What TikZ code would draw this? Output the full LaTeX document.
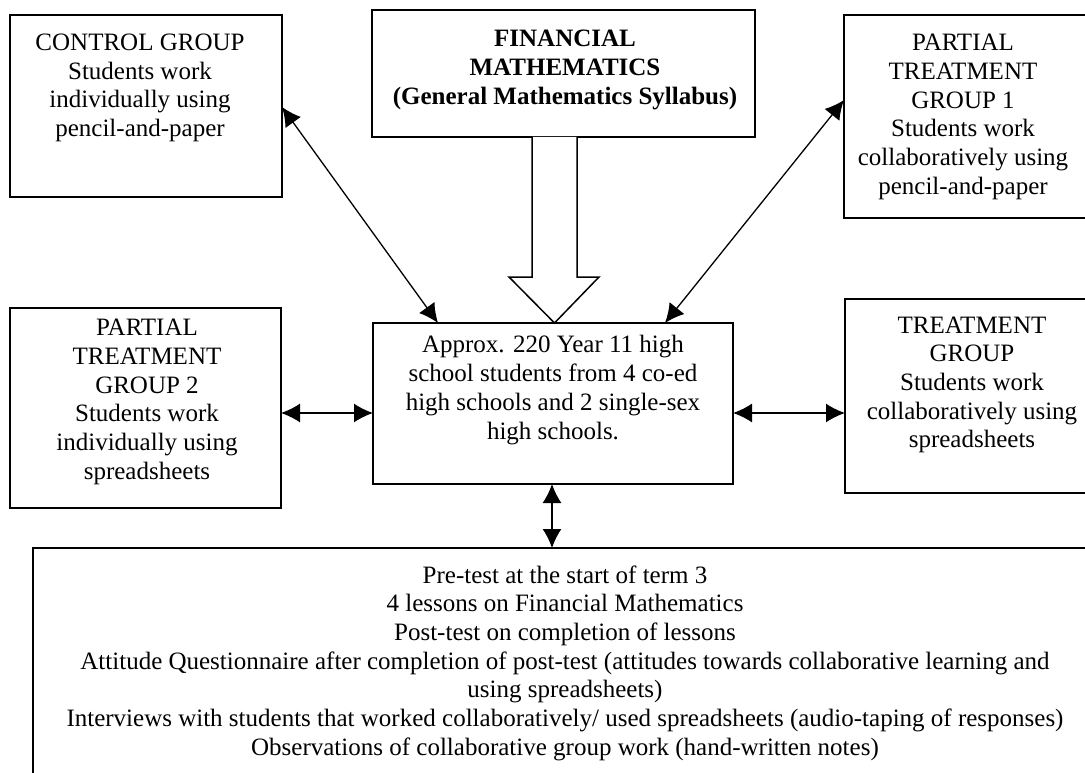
\documentclass[tikz,border=0pt]{standalone}
\usepackage{fontspec}
\setmainfont{Liberation Serif}
\usetikzlibrary{arrows.meta,calc}
\tikzset{
  box/.style={draw=black, line width=1.7pt, fill=white, inner sep=0pt, outer sep=0pt, anchor=north west},
  txt/.style={align=center, inner sep=0pt, font=\fontsize{25}{28.7}\selectfont},
  conn/.style={line width=1.3pt, {Latex[length=19pt,width=19pt]}-{Latex[length=19pt,width=19pt]}},
  hollow/.style={draw=black, line width=1.5pt, fill=white, line join=miter}
}
\begin{document}
\begin{tikzpicture}[x=1pt,y=-1pt]
\useasboundingbox (0,0) rectangle (1085,773);
\clip (0,0) rectangle (1085,773);
\fill[white] (0,0) rectangle (1085,773);
% boxes
\node[box, minimum width=272pt, minimum height=182pt] (ctrl) at (10,15) {};
\node[box, minimum width=383pt, minimum height=127pt] (fin) at (372,10) {};
\node[box, minimum width=260pt, minimum height=203pt] (p1) at (844,15) {};
\node[box, minimum width=271pt, minimum height=200pt] (p2) at (10,308) {};
\node[box, minimum width=360pt, minimum height=161pt] (ctr) at (373,323) {};
\node[box, minimum width=260pt, minimum height=194pt] (trt) at (845,299) {};
\node[box, minimum width=1064pt, minimum height=260pt] (bot) at (33,548) {};
% texts
\node[txt] (ctrlt) at (140,88) {CONTROL GROUP\\Students work\\individually using\\pencil-and-paper};
\node[txt, font=\fontsize{25}{28.7}\selectfont\bfseries] (fint) at (565,70) {FINANCIAL\\MATHEMATICS\\(General Mathematics Syllabus)};
\node[txt] (p1t) at (963,117) {PARTIAL\\TREATMENT\\GROUP 1\\Students work\\collaboratively using\\pencil-and-paper};
\node[txt] (p2t) at (147,402) {PARTIAL\\TREATMENT\\GROUP 2\\Students work\\individually using\\spreadsheets};
\node[txt] (ctrt) at (553,390) {Approx. 220 Year 11 high\\school students from 4 co-ed\\high schools and 2 single-sex\\high schools.};
\node[txt] (trtt) at (972,385) {TREATMENT\\GROUP\\Students work\\collaboratively using\\spreadsheets};
\node[txt] (bott) at (565,663) {Pre-test at the start of term 3\\4 lessons on Financial Mathematics\\Post-test on completion of lessons\\Attitude Questionnaire after completion of post-test (attitudes towards collaborative learning and\\using spreadsheets)\\Interviews with students that worked collaboratively/ used spreadsheets (audio-taping of responses)\\Observations of collaborative group work (hand-written notes)};
% hollow arrow from fin to ctr
\coordinate (ha) at ($(fin.south west)+(182.5,0)$);
\coordinate (hb) at ($(ctr.north west)+(181.5,0)$);
\draw[hollow] ($(ha)+(-22.5,0)$) -- ($(ha)+(-22.5,140)$) -- ($(ha)+(-45.5,140)$) -- (hb) -- ($(ha)+(44.5,140)$) -- ($(ha)+(22.5,140)$) -- ($(ha)+(22.5,0)$);
% connectors
\draw[conn] ($(ctrl.north east)+(0,92)$) -- ($(ctr.north west)+(65,0)$);
\draw[conn] ($(p1.north west)+(0,85)$) -- ($(ctr.north west)+(292,0)$);
\coordinate (yl) at ($(p2.north east)+(0,105)$);
\draw[conn] (yl) -- (ctr.west |- yl);
\coordinate (yr) at ($(ctr.north east)+(0,90)$);
\draw[conn] (yr) -- (trt.west |- yr);
\coordinate (vx) at ($(ctr.south west)+(179,0)$);
\draw[conn] (vx) -- (vx |- bot.north);
\end{tikzpicture}
\end{document}
